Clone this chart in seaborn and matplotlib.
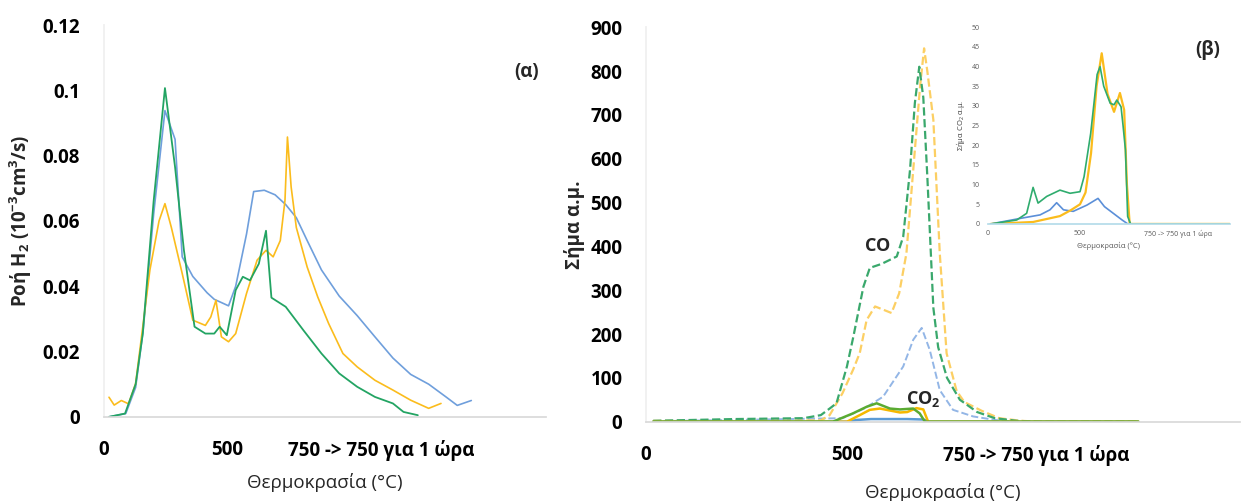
import matplotlib
matplotlib.use("Agg")
import matplotlib.pyplot as plt
import seaborn as sns

# (α) H2 flow, x in "time-like" units of the Excel category axis
t_a_blue = [22, 90, 130, 160, 203, 249, 290, 319, 362, 420, 449, 507, 536, 580, 609, 652, 696,
            739, 782, 826, 884, 956, 1029, 1101, 1174, 1246, 1319, 1391, 1435, 1492]
h2_blue = [0, 0.001, 0.009, 0.026, 0.062, 0.0938, 0.085, 0.049, 0.043, 0.038, 0.036, 0.034, 0.040,
           0.056, 0.069, 0.0694, 0.068, 0.065, 0.061, 0.054, 0.045, 0.037, 0.031, 0.0245, 0.018,
           0.013, 0.010, 0.006, 0.0035, 0.005]
t_a_green = [22, 87, 130, 159, 203, 249, 290, 326, 369, 413, 449, 471, 500, 536, 565, 594, 630,
             659, 681, 739, 811, 884, 956, 1029, 1101, 1174, 1217, 1275]
h2_green = [0, 0.001, 0.010, 0.0255, 0.066, 0.1007, 0.0765, 0.051, 0.0276, 0.0255, 0.0255, 0.0276,
            0.025, 0.0388, 0.0429, 0.0418, 0.0469, 0.057, 0.0365, 0.0337, 0.0265, 0.0194, 0.0133,
            0.0092, 0.0061, 0.0041, 0.0015, 0.0005]
t_a_yellow = [22, 43, 72, 101, 130, 188, 225, 249, 275, 319, 362, 413, 435, 456, 478, 507, 536,
              580, 623, 659, 688, 717, 736, 746, 761, 782, 826, 869, 913, 971, 1029, 1101, 1174,
              1246, 1319, 1369]
h2_yellow = [0.006, 0.0036, 0.005, 0.004, 0.0102, 0.045, 0.060, 0.0653, 0.058, 0.0439, 0.0296,
             0.028, 0.0306, 0.0357, 0.0245, 0.023, 0.0255, 0.0378, 0.048, 0.051, 0.049, 0.054,
             0.0663, 0.0857, 0.0704, 0.058, 0.0459, 0.0367, 0.0286, 0.0194, 0.0153, 0.0112,
             0.0082, 0.0051, 0.0026, 0.0041]

# (β) CO (dashed) and CO2 (solid) signal
t_co_green = [18, 219, 392, 435, 457, 474, 500, 516, 541, 557, 586, 624, 640, 657, 669, 680, 690,
              700, 708, 715, 727, 749, 781, 824, 868, 922, 976, 1225]
co_green = [2, 6, 8, 15, 30, 42, 126, 194, 308, 351, 360, 377, 422, 575, 727, 810, 740, 560, 400,
            260, 170, 100, 50, 22, 8, 2, 0, 0]
t_co_yellow = [18, 435, 457, 489, 516, 532, 549, 570, 592, 611, 630, 648, 665, 682, 692, 700, 715,
               731, 748, 773, 792, 835, 879, 933, 976, 1225]
co_yellow = [2, 3, 15, 65, 120, 157, 232, 263, 255, 248, 293, 384, 575, 765, 852, 800, 689, 384,
             156, 70, 45, 25, 8, 2, 0, 0]
t_co_blue = [18, 489, 543, 590, 640, 665, 686, 706, 731, 764, 814, 868, 922, 1225]
co_blue = [1, 8, 30, 57, 126, 187, 214, 164, 72, 27, 12, 4, 0, 0]

t_co2_green = [18, 465, 515, 549, 574, 607, 632, 665, 681, 694, 720, 1225]
co2_green = [0, 0, 19, 34, 42, 30, 28, 30, 19, 0, 0, 0]
t_co2_yellow = [18, 500, 532, 557, 582, 632, 650, 673, 690, 702, 1225]
co2_yellow = [0, 0, 15, 27, 30, 21, 22, 31, 28, 0, 0]
t_co2_blue = [18, 500, 525, 560, 650, 690, 705, 1225]
co2_blue = [0, 0, 4, 6, 6, 5, 0, 0]

# inset: CO2 zoom
t_in_green = [14, 156, 210, 245, 272, 319, 391, 446, 500, 522, 558, 593, 609, 629, 664, 685, 700,
              723, 734, 747, 759, 775, 1314]
in_green = [0, 1, 2.7, 9.3, 5.3, 7, 8.6, 7.8, 8.2, 12, 23, 38, 40, 35, 30.7, 30.3, 31.5, 29.8, 25,
            18.8, 1.9, 0, 0]
t_in_yellow = [14, 245, 391, 450, 500, 530, 560, 590, 618, 650, 685, 717, 740, 755, 770, 1314]
in_yellow = [0, 0.5, 2, 3.5, 5, 8, 18, 35, 43.4, 33, 28.5, 33.3, 29, 10, 0, 0]
t_in_blue = [14, 174, 283, 337, 373, 410, 463, 538, 598, 633, 681, 729, 760, 1314]
in_blue = [0, 1.4, 2.3, 3.6, 5.4, 3.6, 3.2, 4.8, 6.5, 4.4, 2.7, 1, 0, 0]

xt_a = [0, 500, 1126]
xt_b = [0, 500, 970]
xt_in = [0, 500, 1033]
xlabels = ["0", "500", "750 -> 750 για 1 ώρα"]

sns.set_theme(style="white")
plt.rcParams['font.family'] = ['Open Sans', 'DejaVu Sans']
plt.rcParams['mathtext.fontset'] = 'custom'
plt.rcParams['mathtext.rm'] = 'Open Sans'
plt.rcParams['mathtext.bf'] = 'Open Sans:bold'

BLUE = "#6f9fdc"
GREEN = "#23a463"
YELLOW = "#fbbc1c"

fig = plt.figure(figsize=(12.42, 5.01), dpi=100)
ax1 = fig.add_axes([0.0834, 0.168, 0.3562, 0.782])
ax2 = fig.add_axes([0.5201, 0.1583, 0.4783, 0.7872])
ax3 = fig.add_axes([0.7955, 0.553, 0.1948, 0.3925])


def style(ax, size, pad_x, pad_y, bold=True, color="black"):
    for s in ["top", "right"]:
        ax.spines[s].set_visible(False)
    ax.spines["left"].set_color("#efefef")
    ax.spines["bottom"].set_color("#d9d9d9")
    ax.tick_params(length=0, labelsize=size, colors=color)
    ax.tick_params(axis="x", pad=pad_x)
    ax.tick_params(axis="y", pad=pad_y)
    for lab in ax.get_xticklabels() + ax.get_yticklabels():
        lab.set_fontweight("bold" if bold else "normal")


# ---- (α)
sns.lineplot(x=t_a_blue, y=h2_blue, ax=ax1, color=BLUE, lw=1.2)
sns.lineplot(x=t_a_yellow, y=h2_yellow, ax=ax1, color=YELLOW, lw=1.2)
sns.lineplot(x=t_a_green, y=h2_green, ax=ax1, color=GREEN, lw=1.3)
ax1.set_xlim(0, 1795)
ax1.set_ylim(0, 0.12)
ax1.set_xticks(xt_a, xlabels)
ax1.set_yticks([0, 0.02, 0.04, 0.06, 0.08, 0.1, 0.12],
               ["0", "0.02", "0.04", "0.06", "0.08", "0.1", "0.12"])
style(ax1, 13.5, 17, 17)
ax1.set_xlabel("Θερμοκρασία (°C)", fontsize=13.5, color="#262626", labelpad=8)
ax1.set_ylabel(r"Ροή H$\mathregular{_2}$ (10$\mathregular{^{-3}}$cm$\mathregular{^3}$/s)",
               fontsize=13.5, fontweight="bold", labelpad=6)
ax1.text(0.955, 0.88, "(α)", transform=ax1.transAxes, fontsize=13.5, fontweight="bold",
         ha="center", va="center")

# ---- (β)
sns.lineplot(x=t_co_blue, y=co_blue, ax=ax2, color="#93b6e6", lw=1.4, linestyle="--")
sns.lineplot(x=t_co_yellow, y=co_yellow, ax=ax2, color="#fccf63", lw=1.6, linestyle="--")
sns.lineplot(x=t_co_green, y=co_green, ax=ax2, color="#3aa86c", lw=1.6, linestyle="--")
sns.lineplot(x=t_co2_blue, y=co2_blue, ax=ax2, color="#5b9bd5", lw=1.8)
sns.lineplot(x=t_co2_yellow, y=co2_yellow, ax=ax2, color="#f5b800", lw=1.8)
sns.lineplot(x=t_co2_green, y=co2_green, ax=ax2, color="#5aab32", lw=1.8)
ax2.set_xlim(0, 1478)
ax2.set_ylim(0, 900)
ax2.set_xticks(xt_b, xlabels)
ax2.set_yticks(range(0, 901, 100))
style(ax2, 13.5, 17, 17)
ax2.set_xlabel("Θερμοκρασία (°C)", fontsize=13.5, color="#262626", labelpad=12)
ax2.set_ylabel("Σήμα α.μ.", fontsize=13.5, fontweight="bold", labelpad=4)
ax2.text(577, 400, "CO", fontsize=13, fontweight="bold", ha="center", va="center")
ax2.text(690, 52, r"CO$\mathregular{_2}$", fontsize=13, fontweight="bold", ha="center",
         va="center")
fig.text(1208 / 1242, 1 - 50 / 501, "(β)", fontsize=13.5, fontweight="bold",
         ha="center", va="center")

# ---- inset
sns.lineplot(x=t_in_blue, y=in_blue, ax=ax3, color="#5b8fd8", lw=1.2)
sns.lineplot(x=t_in_yellow, y=in_yellow, ax=ax3, color=YELLOW, lw=1.6)
sns.lineplot(x=t_in_green, y=in_green, ax=ax3, color="#2fac6e", lw=1.2)
ax3.patch.set_alpha(0)
ax3.set_xlim(0, 1315)
ax3.set_ylim(0, 50)
ax3.set_xticks(xt_in, xlabels)
ax3.set_yticks(range(0, 51, 5))
style(ax3, 5, 4, 6, bold=False, color="#595959")
ax3.spines["left"].set_visible(False)
ax3.spines["bottom"].set_color("#b5dcea")
ax3.set_xlabel("Θερμοκρασία (°C)", fontsize=5.5, color="#595959", labelpad=3)
ax3.set_ylabel(r"Σήμα CO$\mathregular{_2}$ α.μ.", fontsize=5.5, color="#404040", labelpad=3)

fig.savefig("out.png", dpi=100)
